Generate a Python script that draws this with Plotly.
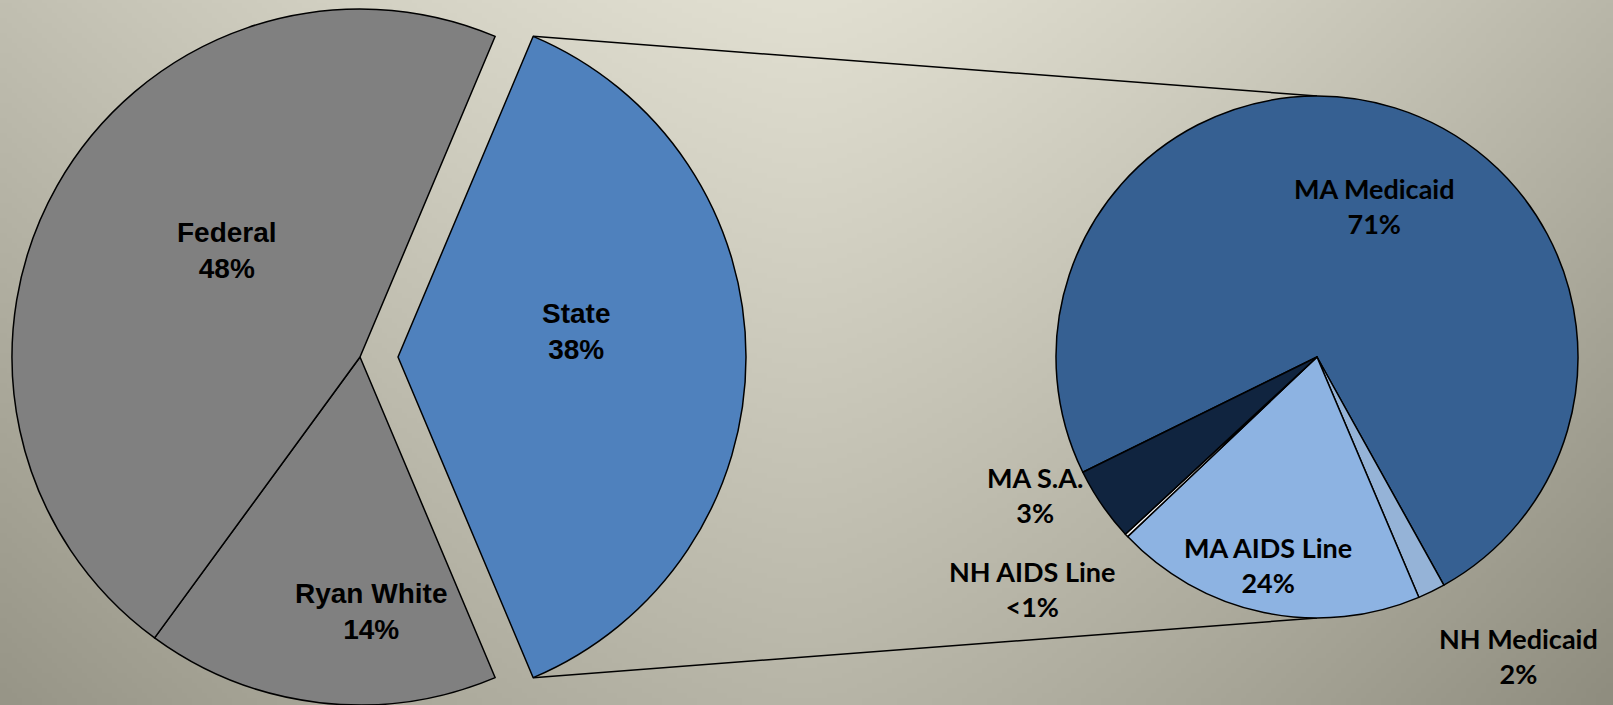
import base64
import math
import struct
import zlib

import numpy as np
import plotly.graph_objects as go

# ---------------- data ----------------
# Primary pie (clockwise order starting at the top edge of the exploded slice)
main_labels = ["State", "Ryan White", "Federal"]
main_values = [37.3, 16.4, 46.3]          # slice sizes as drawn
main_text = ["38%", "14%", "48%"]        # printed percentages

# Secondary pie (breakdown of "State"), clockwise order
sub_labels = ["MA Medicaid", "NH Medicaid", "MA AIDS Line", "NH AIDS Line", "MA S.A."]
sub_values = [74.2, 1.7, 19.3, 0.2, 4.6]
sub_text = ["71%", "2%", "24%", "<1%", "3%"]

# ---------------- styles ----------------
W, H = 1613, 705
GRAY = "#808080"
STATE_BLUE = "#4F81BD"
sub_colors = ["#366092", "#95B3D7", "#8DB3E2", "#F2F2F2", "#10243F"]
EDGE = "#000000"
EDGE_W = 1.5
CLEAR = "rgba(0,0,0,0)"

# layout of the two pies (pixels)
main_cx, main_cy, main_r = 360, 357, 348
explode_px = 38
sub_cx, sub_cy, sub_r = 1317, 357, 261
sub_rotation = -116.2

# label placement: (angle deg ccw from 3 o'clock, radius fraction)
main_label_pos = {"State": (8.3, 0.517), "Ryan White": (-87.5, 0.733), "Federal": (141.4, 0.489)}
sub_label_pos = {
    "MA Medicaid": (69.3, 0.618),
    "NH Medicaid": (304.0, 1.382),
    "MA AIDS Line": (256.7, 0.819),
    "NH AIDS Line": (219.1, 1.408),
    "MA S.A.": (206.1, 1.203),
}


def domain_for(cx, cy, r):
    return dict(x=[(cx - r) / W, (cx + r) / W], y=[(H - cy - r) / H, (H - cy + r) / H])


def to_paper(px, py):
    return px / W, 1 - py / H


# ---------------- background gradient as an embedded PNG ----------------
def png_uri(arr):
    h, w, _ = arr.shape
    raw = b"".join(b"\x00" + arr[y].tobytes() for y in range(h))

    def chunk(tag, data):
        return (struct.pack(">I", len(data)) + tag + data
                + struct.pack(">I", zlib.crc32(tag + data) & 0xFFFFFFFF))

    png = (b"\x89PNG\r\n\x1a\n"
           + chunk(b"IHDR", struct.pack(">IIBBBBB", w, h, 8, 2, 0, 0, 0))
           + chunk(b"IDAT", zlib.compress(raw, 9))
           + chunk(b"IEND", b""))
    return "data:image/png;base64," + base64.b64encode(png).decode()


gw, gh = 323, 141
xs = np.linspace(0, W, gw)
ys = np.linspace(0, H, gh)
X, Y = np.meshgrid(xs, ys)
u = (X - W / 2) / (W / 2)
v = Y / H
coef = np.where(u < 0, 32.0, 40.0)
drop = coef * np.abs(u) ** 1.4 + 42.0 * v
light = np.array([225.0, 223.0, 209.0])
img = np.clip(light[None, None, :] - drop[..., None], 0, 255).astype(np.uint8)
bg_uri = png_uri(img)

# ---------------- figure ----------------
fig = go.Figure()

state_deg = 360 * main_values[0] / sum(main_values)
main_rotation = 90 - state_deg / 2

# base pie: Federal + Ryan White (State slot transparent)
fig.add_trace(go.Pie(
    labels=main_labels, values=main_values, sort=False, direction="clockwise",
    rotation=main_rotation, domain=domain_for(main_cx, main_cy, main_r),
    marker=dict(colors=[CLEAR, GRAY, GRAY],
                line=dict(color=EDGE, width=[0, EDGE_W, EDGE_W])),
    textinfo="none", hoverinfo="label+value", showlegend=False,
))
# exploded State slice
state_cx = main_cx + explode_px
fig.add_trace(go.Pie(
    labels=main_labels, values=main_values, sort=False, direction="clockwise",
    rotation=main_rotation, domain=domain_for(state_cx, main_cy, main_r),
    marker=dict(colors=[STATE_BLUE, CLEAR, CLEAR],
                line=dict(color=EDGE, width=[EDGE_W, 0, 0])),
    textinfo="none", hoverinfo="label+value", showlegend=False,
))
# secondary pie
fig.add_trace(go.Pie(
    labels=sub_labels, values=sub_values, sort=False, direction="clockwise",
    rotation=sub_rotation, domain=domain_for(sub_cx, sub_cy, sub_r),
    marker=dict(colors=sub_colors, line=dict(color=EDGE, width=EDGE_W)),
    textinfo="none", hoverinfo="label+value", showlegend=False,
))

# connector lines from the exploded slice corners to the secondary pie
half = math.radians(state_deg / 2)
shapes = []
for sgn in (1, -1):
    x0, y0 = to_paper(state_cx + main_r * math.cos(half), main_cy - sgn * main_r * math.sin(half))
    x1, y1 = to_paper(sub_cx, sub_cy - sgn * sub_r)
    shapes.append(dict(type="line", xref="paper", yref="paper", x0=x0, y0=y0, x1=x1, y1=y1,
                       line=dict(color=EDGE, width=EDGE_W), layer="below"))

annotations = []
main_centers = {"State": state_cx}
for lab, txt in zip(main_labels, main_text):
    ang, frac = main_label_pos[lab]
    cx = main_centers.get(lab, main_cx)
    px = cx + frac * main_r * math.cos(math.radians(ang))
    py = main_cy - frac * main_r * math.sin(math.radians(ang))
    x, y = to_paper(px, py)
    annotations.append(dict(x=x, y=y, xref="paper", yref="paper", showarrow=False,
                            text=f"<b>{lab}<br>{txt}</b>", xanchor="center", yanchor="middle",
                            font=dict(family="Liberation Sans, Arial, sans-serif", size=28, color="#000")))
for lab, txt in zip(sub_labels, sub_text):
    ang, frac = sub_label_pos[lab]
    px = sub_cx + frac * sub_r * math.cos(math.radians(ang))
    py = sub_cy - frac * sub_r * math.sin(math.radians(ang))
    x, y = to_paper(px, py)
    annotations.append(dict(x=x, y=y, xref="paper", yref="paper", showarrow=False,
                            text=f"<b>{lab}<br>{txt}</b>", xanchor="center", yanchor="middle",
                            font=dict(family="Lato, Carlito, sans-serif", size=27, color="#000")))

fig.update_layout(
    width=W, height=H, margin=dict(l=0, r=0, t=0, b=0),
    paper_bgcolor="#C8C6B6", plot_bgcolor="rgba(0,0,0,0)",
    shapes=shapes, annotations=annotations,
    images=[dict(source=bg_uri, xref="paper", yref="paper", x=0, y=1, sizex=1, sizey=1,
                 xanchor="left", yanchor="top", sizing="stretch", layer="below")],
    showlegend=False,
)

page_css = (
    "document.documentElement.style.margin='0';"
    "document.documentElement.style.overflow='hidden';"
    "document.body.style.margin='0';"
    "document.body.style.padding='0';"
    "document.body.style.overflow='hidden';"
)

fig.write_html("out.html", post_script=page_css, config={"displayModeBar": False})
